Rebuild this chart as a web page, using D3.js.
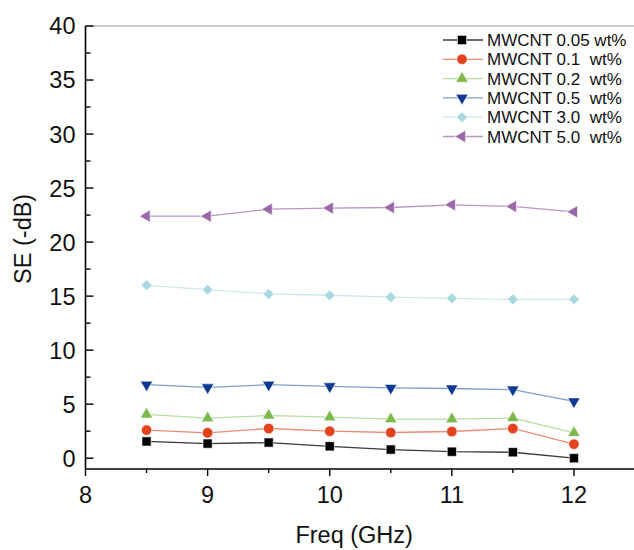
<!DOCTYPE html>
<html>
<head>
<meta charset="utf-8">
<script src="https://cdn.jsdelivr.net/npm/d3@7"></script>
<style>
  html, body { margin: 0; padding: 0; background: #fff; }
  svg { display: block; font-family: Arial, "Liberation Sans", Helvetica, sans-serif; }
</style>
</head>
<body>
<svg id="chart" width="634" height="550"></svg>
<script>
// Frequency points (GHz)
const freq = [8.5, 9, 9.5, 10, 10.5, 11, 11.5, 12];

// Shielding effectiveness (-dB) per MWCNT loading
const se005 = [1.55, 1.35, 1.45, 1.1, 0.8, 0.6, 0.55, 0.0];
const se01  = [2.6, 2.35, 2.75, 2.5, 2.38, 2.47, 2.75, 1.3];
const se02  = [4.05, 3.7, 3.95, 3.8, 3.62, 3.62, 3.72, 2.35];
const se05  = [6.8, 6.55, 6.8, 6.65, 6.5, 6.45, 6.35, 5.25];
const se30  = [16.0, 15.6, 15.2, 15.08, 14.9, 14.8, 14.7, 14.7];
const se50  = [22.4, 22.4, 23.05, 23.15, 23.2, 23.45, 23.3, 22.8];

const seriesNames = ["MWCNT 0.05 wt%", "MWCNT 0.1  wt%", "MWCNT 0.2  wt%",
                     "MWCNT 0.5  wt%", "MWCNT 3.0  wt%", "MWCNT 5.0  wt%"];

const xMajorTicks = [8, 9, 10, 11, 12];
const xMinorTicks = [8.5, 9.5, 10.5, 11.5, 12.5];
const yMajorTicks = [0, 5, 10, 15, 20, 25, 30, 35, 40];
const yMinorTicks = [2.5, 7.5, 12.5, 17.5, 22.5, 27.5, 32.5, 37.5];

const seriesValues = [se005, se01, se02, se05, se30, se50];

const styles = [
  { marker: "#000000", line: "#3a3a3a", shape: "square" },
  { marker: "#e2421c", line: "#ef8a78", shape: "circle" },
  { marker: "#7cb84a", line: "#bcdca6", shape: "triUp" },
  { marker: "#0d3a90", line: "#7f9fce", shape: "triDown" },
  { marker: "#a8d8e0", line: "#cde8ec", shape: "diamond" },
  { marker: "#9a68a8", line: "#b995c2", shape: "triLeft" }
];

const svg = d3.select("#chart");

const x = d3.scaleLinear().domain([8, 12.5]).range([85.5, 635]);
const y = d3.scaleLinear().domain([-1, 40]).range([469, 26]);

function symbolPath(shape) {
  switch (shape) {
    case "square":  return { d: d3.symbol(d3.symbolSquare, 84)(), rot: 0 };
    case "circle":  return { d: d3.symbol(d3.symbolCircle, 86)(), rot: 0 };
    case "triUp":   return { d: d3.symbol(d3.symbolTriangle, 66)(), rot: 0 };
    case "triDown": return { d: d3.symbol(d3.symbolTriangle, 66)(), rot: 180 };
    case "triLeft": return { d: d3.symbol(d3.symbolTriangle, 66)(), rot: -90 };
    case "diamond": return { d: d3.symbol(d3.symbolSquare, 60)(), rot: 45 };
  }
}

// Top frame line
svg.append("line")
  .attr("x1", x(8)).attr("x2", 634)
  .attr("y1", y(40)).attr("y2", y(40))
  .attr("stroke", "#9a9a9a").attr("stroke-width", 1);

// Y axis (ticks pointing inward)
const yAxis = svg.append("g").attr("transform", `translate(${x(8)},0)`);
yAxis.append("line")
  .attr("x1", 0).attr("x2", 0)
  .attr("y1", y(40)).attr("y2", y(-1))
  .attr("stroke", "#000").attr("stroke-width", 1.6);
yAxis.selectAll(".ymaj").data(yMajorTicks).join("line")
  .attr("class", "ymaj")
  .attr("x1", 0).attr("x2", 8)
  .attr("y1", d => y(d)).attr("y2", d => y(d))
  .attr("stroke", "#000").attr("stroke-width", 1.4);
yAxis.selectAll(".ymin").data(yMinorTicks).join("line")
  .attr("class", "ymin")
  .attr("x1", 0).attr("x2", 5)
  .attr("y1", d => y(d)).attr("y2", d => y(d))
  .attr("stroke", "#000").attr("stroke-width", 1.4);
yAxis.selectAll("text").data(yMajorTicks).join("text")
  .attr("x", -10).attr("y", d => y(d))
  .attr("dy", "0.36em")
  .attr("text-anchor", "end")
  .attr("font-size", 23.5)
  .attr("fill", "#111")
  .text(d => d);

// X axis (ticks pointing outward)
const xAxis = svg.append("g").attr("transform", `translate(0,${y(-1)})`);
xAxis.append("line")
  .attr("x1", x(8)).attr("x2", 634)
  .attr("y1", 0).attr("y2", 0)
  .attr("stroke", "#000").attr("stroke-width", 1.6);
xAxis.selectAll(".xmaj").data(xMajorTicks).join("line")
  .attr("class", "xmaj")
  .attr("x1", d => x(d)).attr("x2", d => x(d))
  .attr("y1", 0).attr("y2", 7)
  .attr("stroke", "#000").attr("stroke-width", 1.4);
xAxis.selectAll(".xmin").data(xMinorTicks).join("line")
  .attr("class", "xmin")
  .attr("x1", d => x(d)).attr("x2", d => x(d))
  .attr("y1", 0).attr("y2", 4)
  .attr("stroke", "#000").attr("stroke-width", 1.4);
xAxis.selectAll("text").data(xMajorTicks).join("text")
  .attr("x", d => x(d)).attr("y", 34)
  .attr("text-anchor", "middle")
  .attr("font-size", 23.5)
  .attr("fill", "#111")
  .text(d => d);

// Axis titles
svg.append("text")
  .attr("x", x(10.2)).attr("y", 543)
  .attr("text-anchor", "middle")
  .attr("font-size", 23.5)
  .attr("fill", "#111")
  .text("Freq (GHz)");
svg.append("text")
  .attr("transform", `translate(31,${y(20.3)}) rotate(-90)`)
  .attr("text-anchor", "middle")
  .attr("font-size", 23.5)
  .attr("fill", "#111")
  .text("SE (-dB)");

// Series lines and markers
const lineGen = d3.line().x((d, i) => x(freq[i])).y(d => y(d));
const plot = svg.append("g");
seriesValues.forEach((vals, k) => {
  const st = styles[k];
  plot.append("path")
    .attr("d", lineGen(vals))
    .attr("fill", "none")
    .attr("stroke", st.line)
    .attr("stroke-width", 1.3);
});
seriesValues.forEach((vals, k) => {
  const st = styles[k];
  const sym = symbolPath(st.shape);
  plot.append("g").selectAll("path").data(vals).join("path")
    .attr("d", sym.d)
    .attr("transform", (d, i) => `translate(${x(freq[i])},${y(d)}) rotate(${sym.rot})`)
    .attr("fill", st.marker)
    .attr("stroke", "#ffffff")
    .attr("stroke-width", 0.6);
});

// Legend
const legend = svg.append("g");
seriesNames.forEach((name, k) => {
  const st = styles[k];
  const cy = 40 + k * 19.3;
  legend.append("line")
    .attr("x1", 443).attr("x2", 483)
    .attr("y1", cy).attr("y2", cy)
    .attr("stroke", st.line).attr("stroke-width", 1.3);
  const sym = symbolPath(st.shape);
  legend.append("path")
    .attr("d", sym.d)
    .attr("transform", `translate(462,${cy}) rotate(${sym.rot})`)
    .attr("fill", st.marker)
    .attr("stroke", "#ffffff")
    .attr("stroke-width", 0.6);
  legend.append("text")
    .attr("x", 487).attr("y", cy)
    .attr("dy", "0.36em")
    .attr("font-size", 17)
    .attr("fill", "#111")
    .style("white-space", "pre")
    .text(name);
});
</script>
</body>
</html>
